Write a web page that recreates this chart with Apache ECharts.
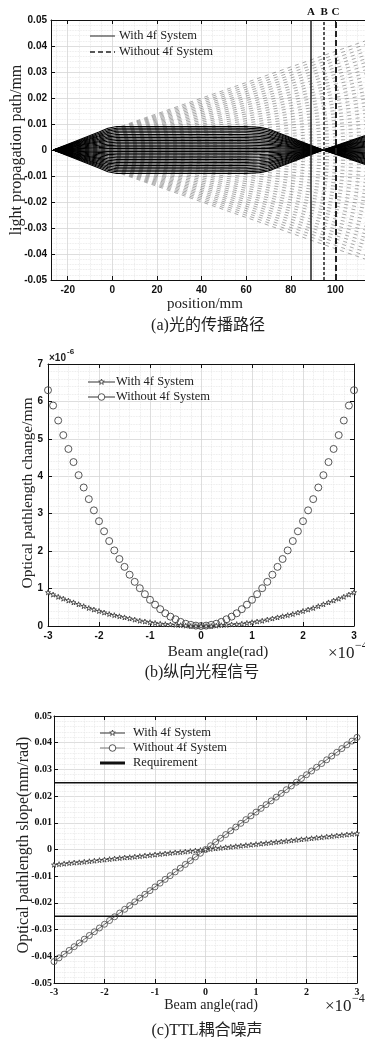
<!DOCTYPE html>
<html>
<head>
<meta charset="utf-8">
<script src="https://cdn.jsdelivr.net/npm/echarts@6/dist/echarts.min.js"></script>
<style>
  html, body { margin: 0; padding: 0; background: #fff; }
  #chart { width: 365px; height: 1040px; }
</style>
</head>
<body>
<div id="chart"></div>
<script>
// beam angle samples (unit 1e-4 rad), used by panels (b) and (c)
var beamAngle = [-3.0,-2.9,-2.8,-2.7,-2.6,-2.5,-2.4,-2.3,-2.2,-2.1,-2.0,-1.9,-1.8,-1.7,-1.6,-1.5,-1.4,-1.3,-1.2,-1.1,-1.0,-0.9,-0.8,-0.7,-0.6,-0.5,-0.4,-0.3,-0.2,-0.1,0,
  0.1,0.2,0.3,0.4,0.5,0.6,0.7,0.8,0.9,1.0,1.1,1.2,1.3,1.4,1.5,1.6,1.7,1.8,1.9,2.0,2.1,2.2,2.3,2.4,2.5,2.6,2.7,2.8,2.9,3.0];

// (a) light path: rays traced for these angles (1e-4 rad)
var rayAngles = [-3.0,-2.8,-2.6,-2.4,-2.2,-2.0,-1.8,-1.6,-1.4,-1.2,-1.0,-0.8,-0.6,-0.4,-0.2,0,0.2,0.4,0.6,0.8,1.0,1.2,1.4,1.6,1.8,2.0,2.2,2.4,2.6,2.8,3.0];
// nodes of the ray path (mm) and height of the path per 1e-4 rad (mm)
var withPathX = [-26.5, -6, -2, 2, 60, 66, 70, 94.5, 121];
var withPathY = [0, 0.0023, 0.0028, 0.003, 0.003, 0.0029, 0.0027, 0, -0.0026];
var withoutPathX = [-26.5, 121];
var withoutPathY = [0, 0.01475];
var markPos = [89, 95, 100];
var markNames = ['A', 'B', 'C'];

// (b) optical pathlength change (x1e-6 mm)
var pathWith = [0.90,0.84,0.78,0.73,0.68,0.63,0.58,0.53,0.48,0.44,0.40,0.36,0.32,0.29,0.26,0.23,0.20,0.17,0.14,0.12,0.10,0.08,0.06,0.05,0.04,0.03,0.02,0.01,0.00,0.00,
  0.00,
  0.00,0.00,0.01,0.02,0.03,0.04,0.05,0.06,0.08,0.10,0.12,0.14,0.17,0.20,0.23,0.26,0.29,0.32,0.36,0.40,0.44,0.48,0.53,0.58,0.63,0.68,0.73,0.78,0.84,0.90];
var pathWithout = [6.30,5.89,5.49,5.10,4.73,4.38,4.03,3.70,3.39,3.09,2.80,2.53,2.27,2.02,1.79,1.58,1.37,1.18,1.01,0.85,0.70,0.57,0.45,0.34,0.25,0.18,0.11,0.06,0.03,0.01,
  0.00,
  0.01,0.03,0.06,0.11,0.18,0.25,0.34,0.45,0.57,0.70,0.85,1.01,1.18,1.37,1.58,1.79,2.02,2.27,2.53,2.80,3.09,3.39,3.70,4.03,4.38,4.73,5.10,5.49,5.89,6.30];

// (c) optical pathlength slope (mm/rad)
var slopeWith = [-0.0057,-0.0055,-0.0053,-0.0051,-0.0049,-0.0048,-0.0046,-0.0044,-0.0042,-0.0040,-0.0038,-0.0036,-0.0034,-0.0032,-0.0030,-0.0029,-0.0027,-0.0025,-0.0023,-0.0021,-0.0019,-0.0017,-0.0015,-0.0013,-0.0011,-0.0010,-0.0008,-0.0006,-0.0004,-0.0002,
  0,
  0.0002,0.0004,0.0006,0.0008,0.0010,0.0012,0.0014,0.0016,0.0018,0.0020,0.0022,0.0024,0.0026,0.0028,0.0030,0.0032,0.0034,0.0036,0.0038,0.0040,0.0042,0.0044,0.0046,0.0048,0.0050,0.0052,0.0054,0.0056,0.0058,0.0060];
var slopeWithout = [-0.0420,-0.0406,-0.0392,-0.0378,-0.0364,-0.0350,-0.0336,-0.0322,-0.0308,-0.0294,-0.0280,-0.0266,-0.0252,-0.0238,-0.0224,-0.0210,-0.0196,-0.0182,-0.0168,-0.0154,-0.0140,-0.0126,-0.0112,-0.0098,-0.0084,-0.0070,-0.0056,-0.0042,-0.0028,-0.0014,
  0,
  0.0014,0.0028,0.0042,0.0056,0.0070,0.0084,0.0098,0.0112,0.0126,0.0140,0.0154,0.0168,0.0182,0.0196,0.0210,0.0224,0.0238,0.0252,0.0266,0.0280,0.0294,0.0308,0.0322,0.0336,0.0350,0.0364,0.0378,0.0392,0.0406,0.0420];
var requirement = [0.025, -0.025];

var serif = "'Liberation Serif', 'Times New Roman', serif";
var sans = "'Liberation Sans', Arial, sans-serif";
var cjk = "'Liberation Serif', 'Noto Sans CJK SC', serif";
var star = 'path://M0,-1L0.2245,-0.309L0.9511,-0.309L0.3633,0.118L0.5878,0.809L0,0.382L-0.5878,0.809L-0.3633,0.118L-0.9511,-0.309L-0.2245,-0.309Z';

// one axis (bottom/left ones carry labels and grid lines, top/right only ticks)
function makeAxis(gi, pos, opt, font) {
  var main = (pos === 'bottom' || pos === 'left');
  var ax = {
    type: 'value', gridIndex: gi, position: pos,
    min: opt.min, max: opt.max,
    axisLine: { show: true, onZero: false, lineStyle: { color: '#111', width: 1 } },
    axisTick: { show: true, inside: true, length: 4, lineStyle: { color: '#111', width: 1 } },
    axisLabel: { show: main, color: '#111', fontFamily: font, fontWeight: 'bold', fontSize: 10, margin: opt.margin || 5,
                 showMinLabel: opt.showMin !== false },
    splitLine: { show: main, lineStyle: { color: '#d6d6d6', width: 0.8 } },
    minorTick: { show: false, splitNumber: opt.minor || 5 },
    minorSplitLine: { show: main, lineStyle: { color: '#e4e4e4', width: 0.8, type: 'dotted' } }
  };
  if (opt.interval) ax.interval = opt.interval;
  if (opt.splitNumber) ax.splitNumber = opt.splitNumber;
  return ax;
}

var xAxes = [], yAxes = [];
// (a)
var ax_a = { min: -27.5, max: 120, splitNumber: 7, showMin: false, minor: 4 };
var ay_a = { min: -0.05, max: 0.05, interval: 0.01, minor: 5, margin: 4 };
xAxes.push(makeAxis(0, 'bottom', ax_a, sans), makeAxis(0, 'top', ax_a, sans));
yAxes.push(makeAxis(0, 'left', ay_a, sans), makeAxis(0, 'right', ay_a, sans));
// (b)
var ax_b = { min: -3, max: 3, interval: 1, minor: 5 };
var ay_b = { min: 0, max: 7, interval: 1, minor: 5 };
xAxes.push(makeAxis(1, 'bottom', ax_b, sans), makeAxis(1, 'top', ax_b, sans));
yAxes.push(makeAxis(1, 'left', ay_b, sans), makeAxis(1, 'right', ay_b, sans));
// (c)
var ax_c = { min: -3, max: 3, interval: 1, minor: 5, margin: 4 };
var ay_c = { min: -0.05, max: 0.05, interval: 0.01, minor: 5, margin: 2 };
xAxes.push(makeAxis(2, 'bottom', ax_c, serif), makeAxis(2, 'top', ax_c, serif));
yAxes.push(makeAxis(2, 'left', ay_c, serif), makeAxis(2, 'right', ay_c, serif));

var series = [];

// (a) rays without 4f system (dashed)
beamAngle.forEach(function (a) {
  series.push({
    type: 'line', xAxisIndex: 0, yAxisIndex: 0, silent: true, animation: false,
    symbol: 'none', z: 2,
    data: withoutPathX.map(function (x, i) { return [x, withoutPathY[i] * a]; }),
    lineStyle: { color: '#444', width: 0.45, type: [4, 4] }
  });
});
// (a) rays with 4f system (solid)
rayAngles.forEach(function (a, k) {
  var s = {
    type: 'line', xAxisIndex: 0, yAxisIndex: 0, silent: true, animation: false,
    symbol: 'none', z: 3,
    data: withPathX.map(function (x, i) { return [x, withPathY[i] * a]; }),
    lineStyle: { color: '#000', width: 1.05 }
  };
  if (k === 0) {
    s.markLine = {
      symbol: ['none', 'none'], silent: true, animation: false, precision: 4,
      label: { show: true, position: 'end', distance: 2, color: '#111', fontFamily: serif, fontWeight: 'bold', fontSize: 11 },
      data: markPos.map(function (p, i) {
        var st = [
          { color: '#222', width: 1.5, type: 'solid' },
          { color: '#222', width: 1.5, type: [3, 2] },
          { color: '#222', width: 2, type: [6, 3] }
        ][i];
        return { xAxis: p, lineStyle: st, label: { formatter: markNames[i] } };
      })
    };
  }
  series.push(s);
});

// (b)
series.push({
  name: 'b_with', type: 'line', xAxisIndex: 2, yAxisIndex: 2, animation: false,
  data: beamAngle.map(function (a, i) { return [a, pathWith[i]]; }),
  symbol: star, symbolSize: 5, showAllSymbol: true,
  itemStyle: { color: '#fff', borderColor: '#333', borderWidth: 0.8 },
  lineStyle: { color: '#333', width: 0.8 }, z: 4
});
series.push({
  name: 'b_without', type: 'line', xAxisIndex: 2, yAxisIndex: 2, animation: false,
  data: beamAngle.map(function (a, i) { return [a, pathWithout[i]]; }),
  symbol: 'circle', symbolSize: 7, showAllSymbol: true,
  itemStyle: { color: 'rgba(255,255,255,0)', borderColor: '#444', borderWidth: 0.9 },
  lineStyle: { width: 0, opacity: 0 }, z: 3
});

// (c)
requirement.forEach(function (r) {
  series.push({
    name: 'c_req', type: 'line', xAxisIndex: 4, yAxisIndex: 4, animation: false, silent: true,
    data: [[ax_c.min, r], [ax_c.max, r]], symbol: 'none',
    lineStyle: { color: '#111', width: 1.6 }, z: 2
  });
});
series.push({
  name: 'c_without', type: 'line', xAxisIndex: 4, yAxisIndex: 4, animation: false,
  data: beamAngle.map(function (a, i) { return [a, slopeWithout[i]]; }),
  symbol: 'circle', symbolSize: 6, showAllSymbol: true,
  itemStyle: { color: 'rgba(255,255,255,0)', borderColor: '#444', borderWidth: 0.8 },
  lineStyle: { color: '#444', width: 0.8 }, z: 3
});
series.push({
  name: 'c_with', type: 'line', xAxisIndex: 4, yAxisIndex: 4, animation: false,
  data: beamAngle.map(function (a, i) { return [a, slopeWith[i]]; }),
  symbol: star, symbolSize: 5, showAllSymbol: true,
  itemStyle: { color: '#fff', borderColor: '#333', borderWidth: 0.8 },
  lineStyle: { color: '#333', width: 0.8 }, z: 4
});

// legend pieces drawn as graphics
function starPoints(cx, cy, r) {
  var pts = [];
  for (var k = 0; k < 10; k++) {
    var rr = k % 2 ? r * 0.4 : r;
    var ang = -Math.PI / 2 + k * Math.PI / 5;
    pts.push([cx + rr * Math.cos(ang), cy + rr * Math.sin(ang)]);
  }
  return pts;
}
function legendRow(x1, x2, y, label, tx, line, marker) {
  var els = [{ type: 'line', shape: { x1: x1, y1: y, x2: x2, y2: y }, style: line, z: 50 }];
  var cx = (x1 + x2) / 2;
  if (marker === 'star') {
    els.push({ type: 'polygon', shape: { points: starPoints(cx, y, 3) }, style: { fill: '#fff', stroke: '#333', lineWidth: 0.8 }, z: 51 });
  } else if (marker === 'circle') {
    els.push({ type: 'circle', shape: { cx: cx, cy: y, r: 3.3 }, style: { fill: '#fff', stroke: '#444', lineWidth: 0.9 }, z: 51 });
  }
  els.push({ type: 'text', x: tx, y: y, z: 51, style: { text: label, fill: '#222', font: '12.5px ' + serif, verticalAlign: 'middle', align: 'left' } });
  return els;
}
function txt(x, y, s, font, align, rot) {
  return { type: 'text', x: x, y: y, rotation: rot || 0, z: 60,
           style: { text: s, fill: '#222', font: font, align: align || 'center', verticalAlign: 'middle' } };
}

var g = [];
g = g.concat(legendRow(90, 115, 36, 'With 4f System', 119, { stroke: '#222', lineWidth: 1 }));
g = g.concat(legendRow(90, 115, 52, 'Without 4f System', 119, { stroke: '#222', lineWidth: 1.3, lineDash: [5, 3] }));
g = g.concat(legendRow(88, 115, 382, 'With 4f System', 116, { stroke: '#333', lineWidth: 1 }, 'star'));
g = g.concat(legendRow(88, 115, 397, 'Without 4f System', 116, { stroke: '#333', lineWidth: 1 }, 'circle'));
g = g.concat(legendRow(100, 125, 733, 'With 4f System', 133, { stroke: '#333', lineWidth: 1 }, 'star'));
g = g.concat(legendRow(100, 125, 748, 'Without 4f System', 133, { stroke: '#777', lineWidth: 1 }, 'circle'));
g = g.concat(legendRow(100, 125, 763, 'Requirement', 133, { stroke: '#111', lineWidth: 3 }));

// axis titles
g.push(txt(17, 150, 'light propagation path/mm', '16px ' + serif, 'center', Math.PI / 2));
g.push(txt(205, 304, 'position/mm', '15px ' + serif));
g.push(txt(208, 326, '(a)光的传播路径', '16px ' + cjk));

g.push(txt(28, 493, 'Optical pathlength change/mm', '15.5px ' + serif, 'center', Math.PI / 2));
g.push(txt(218, 652, 'Beam angle(rad)', '15px ' + serif));
g.push(txt(49, 358, '×10', 'bold 10px ' + sans, 'left'));
g.push(txt(67, 352, '-6', 'bold 8px ' + sans, 'left'));
g.push(txt(328, 654, '×10', '17px ' + serif, 'left'));
g.push(txt(355, 646, '−4', '12px ' + serif, 'left'));
g.push(txt(202, 673, '(b)纵向光程信号', '16px ' + cjk));

g.push(txt(24, 845, 'Optical pathlength slope(mm/rad)', '16px ' + serif, 'center', Math.PI / 2));
g.push(txt(211, 1005, 'Beam angle(rad)', '14px ' + serif));
g.push(txt(325, 1007, '×10', '17px ' + serif, 'left'));
g.push(txt(352, 999, '−4', '12px ' + serif, 'left'));
g.push(txt(207, 1031, '(c)TTL耦合噪声', '16px ' + cjk));

var chart = echarts.init(document.getElementById('chart'), null, { renderer: 'canvas' });
chart.setOption({
  animation: false,
  backgroundColor: '#fff',
  grid: [
    { left: 51, top: 20, right: -15, height: 260, outerBoundsMode: 'none' },
    { left: 48, top: 364, right: 11, height: 262, outerBoundsMode: 'none' },
    { left: 54, top: 716, right: 8, height: 267, outerBoundsMode: 'none' }
  ],
  xAxis: xAxes,
  yAxis: yAxes,
  series: series,
  graphic: { elements: g }
});
</script>
</body>
</html>
